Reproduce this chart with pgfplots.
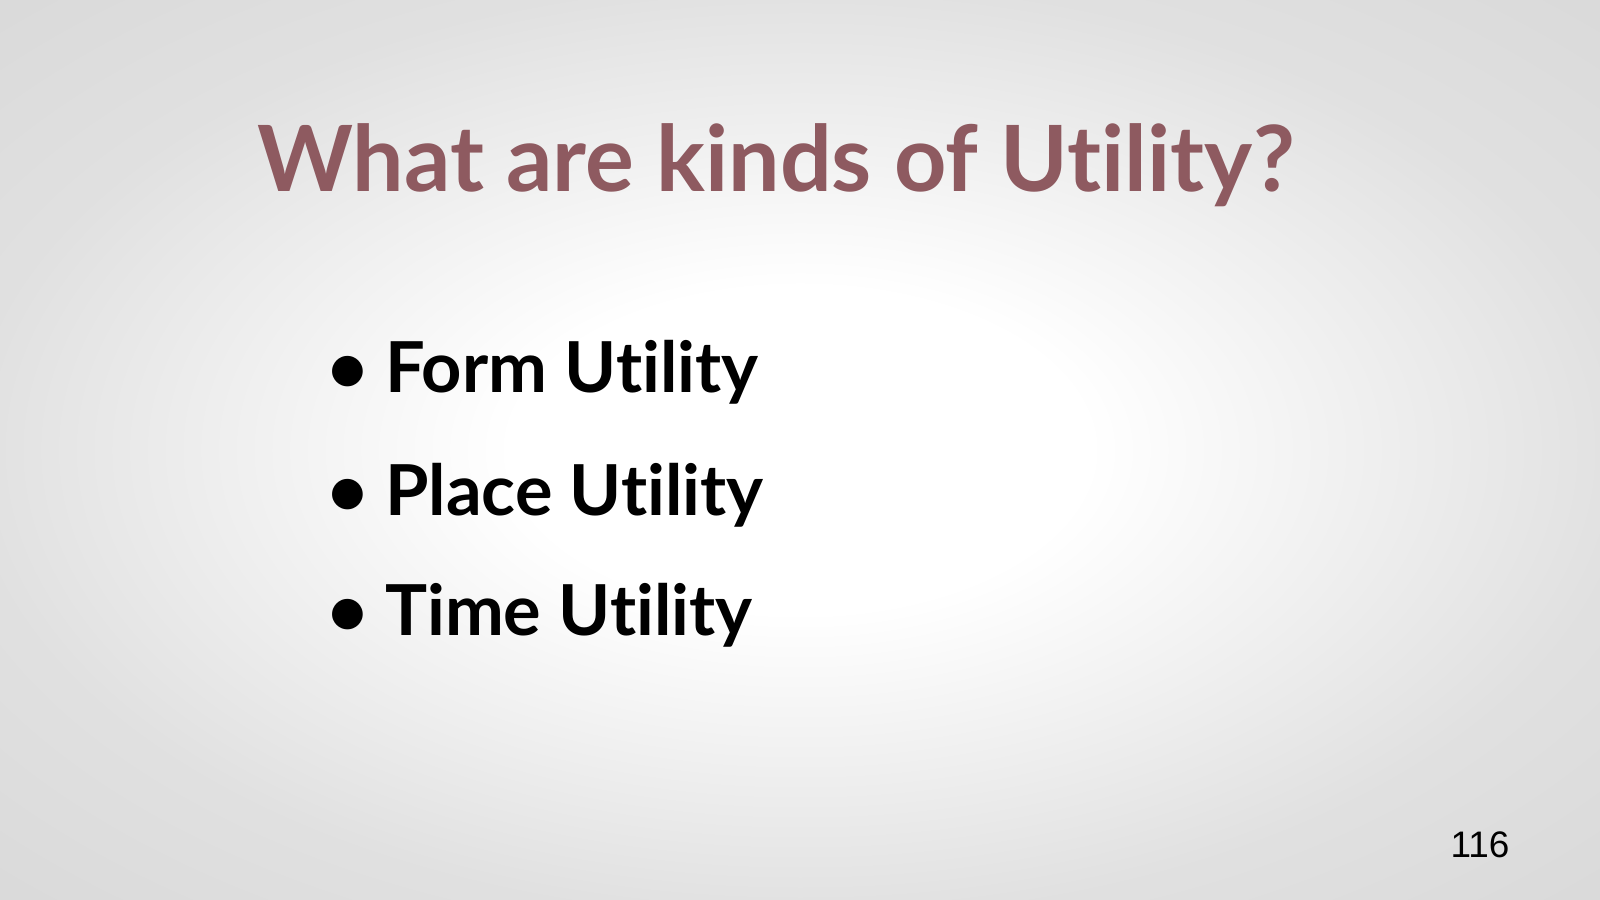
\documentclass[border=0pt]{standalone}
\usepackage{pgfplots}
\pgfplotsset{compat=1.18}
\usepackage{fontspec}
\setmainfont[Ligatures=NoCommon,Contextuals=NoAlternate]{Lato}
\newfontfamily\arialf{Liberation Sans}
\definecolor{titlec}{HTML}{8E5A60}
\pgfdeclareradialshading{bg}{\pgfpoint{0bp}{0bp}}{color(0bp)=(white); color(9bp)=(white); color(26bp)=(black!12); color(40bp)=(black!16); color(50bp)=(black!17)}
\begin{document}
\begin{tikzpicture}
\begin{axis}[width=16cm,height=9cm,scale only axis,xmin=0,xmax=16,ymin=0,ymax=9,hide axis,clip=false]
\shade[shading=bg] (axis cs:0,0) rectangle (axis cs:16,9);
\node[text=titlec,font=\fontsize{26}{30}\selectfont\bfseries] at (axis cs:7.76,7.35) {What are kinds of Utility?};
\node[anchor=west,font=\fontsize{20}{24}\selectfont\bfseries] at (axis cs:3.15,5.28) {\textbullet\ Form Utility};
\node[anchor=west,font=\fontsize{20}{24}\selectfont\bfseries] at (axis cs:3.15,4.05) {\textbullet\ Place Utility};
\node[anchor=west,font=\fontsize{20}{24}\selectfont\bfseries] at (axis cs:3.15,2.85) {\textbullet\ Time Utility};
\node[font=\arialf\fontsize{10.5}{13}\selectfont] at (axis cs:14.8,0.55) {116};
\end{axis}
\end{tikzpicture}
\end{document}
